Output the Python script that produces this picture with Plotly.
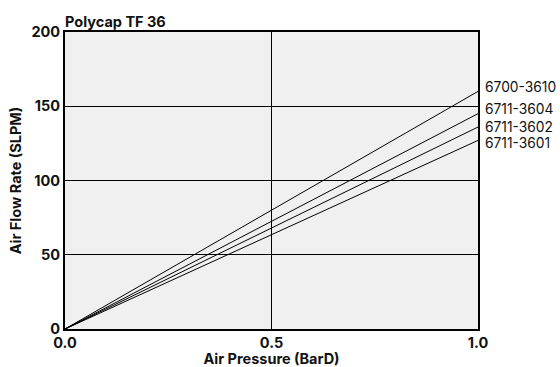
import plotly.graph_objects as go

pressure = [0.0, 1.0]
series_names = ["6700-3610", "6711-3604", "6711-3602", "6711-3601"]
series_end_flow = [160, 145, 136, 127]
label_y = [163, 148, 136, 125]
x_ticks = [0.0, 0.5, 1.0]
x_tick_text = ["0.0", "0.5", "1.0"]
y_ticks = [0, 50, 100, 150, 200]

FONT = "Inter"
bold = dict(family=FONT, color="#111", weight="bold")

fig = go.Figure()
for name, end in zip(series_names, series_end_flow):
    fig.add_trace(go.Scatter(x=pressure, y=[0, end], mode="lines", name=name,
                             line=dict(color="black", width=1), showlegend=False))

for name, ly in zip(series_names, label_y):
    fig.add_annotation(x=1.0, y=ly, xref="x", yref="y", text=name, showarrow=False,
                       xanchor="left", xshift=5, font=dict(size=13.8, color="#111", family=FONT))

fig.add_annotation(x=0, y=1, xref="paper", yref="paper", text="Polycap TF 36",
                   showarrow=False, xanchor="left", yanchor="bottom", yshift=0, xshift=-2,
                   font=dict(size=14.5, **bold))

axis_common = dict(showline=True, linecolor="black", linewidth=2, mirror=True,
                   showgrid=True, gridcolor="black", gridwidth=1, zeroline=False,
                   ticks="", automargin=False, tickfont=dict(size=14.5, **bold))

fig.update_xaxes(range=[0, 1], tickvals=x_ticks, ticktext=x_tick_text,
                 title=dict(text="Air Pressure (BarD)", font=dict(size=14.5, **bold), standoff=0),
                 **axis_common)
fig.update_yaxes(range=[0, 200], tickvals=y_ticks, ticktext=[str(t) for t in y_ticks],
                 title=dict(text="Air Flow Rate (SLPM)", font=dict(size=14.5, **bold), standoff=6),
                 **axis_common)

fig.update_layout(width=560, height=367, margin=dict(l=65, r=82, t=32, b=38),
                  plot_bgcolor="#f0f0f0", paper_bgcolor="white",
                  font=dict(family=FONT, color="#111"))

fig.write_html("out.html")
